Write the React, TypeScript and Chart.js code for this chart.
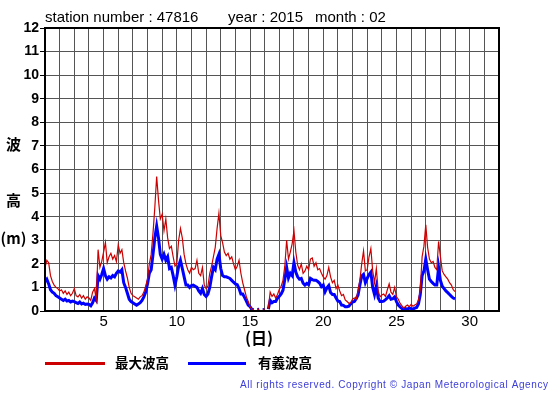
import React, { useEffect, useRef } from "react";
import { Chart, registerables } from "chart.js";

Chart.register(...registerables);

// Time axis: day of month, 3-hourly samples from Feb 1 00:00 to Feb 29 00:00 (= end of Feb 28)
const START_DAY = 1;
const STEP_DAYS = 0.125;

// 最大波高 (maximum wave height, m), 8 samples per day
const maxWave: (number | null)[] = [
  1.85, 2.15, 2.05, 1.5, 1.25, 1.1, 1.0, 0.95,
  0.85, 0.9, 0.75, 0.85, 0.7, 0.8, 0.65, 0.75,
  0.95, 0.65, 0.6, 0.7, 0.55, 0.65, 0.5, 0.6,
  0.55, 0.45, 0.8, 0.95, 0.5, 2.6, 1.85, 2.1,
  2.5, 2.9, 2.05, 2.3, 2.45, 2.2, 2.35, 2.1,
  2.8, 2.45, 2.6, 2.05, 1.7, 1.4, 1.0, 0.75,
  0.65, 0.6, 0.55, 0.5, 0.6, 0.65, 0.8, 1.05,
  1.35, 2.0, 2.4, 3.3, 4.4, 5.7, 4.7, 3.9,
  4.1, 3.4, 3.9, 3.1, 2.65, 2.75, 2.3, 1.9,
  2.0, 3.0, 3.5, 3.1, 2.4, 2.0, 1.75, 1.6,
  1.85, 1.75, 1.8, 2.15, 1.6, 1.5, 1.85, 1.1,
  0.95, 1.05, 1.6, 1.9, 2.3, 2.7, 3.5, 4.15,
  3.2, 2.9, 2.5, 2.35, 2.45, 2.2, 2.3, 2.0,
  1.75, 1.9, 2.15, 1.6, 1.2, 0.9, 0.6, 0.4,
  0.18, 0.08, 0.07, null, 0.07, 0.08, null, 0.06,
  0.08, null, 0.1, 0.8, 0.62, 0.72, 0.55, 0.7,
  0.92, 1.05, 1.3, 1.9, 3.0, 2.2, 2.5, 2.85,
  3.4, 2.5, 1.95, 1.75, 2.0, 1.6, 1.7, 1.9,
  1.75, 2.2, 2.25, 1.9, 2.05, 1.75, 1.8, 1.6,
  1.45, 1.35, 1.5, 1.85, 1.45, 1.2, 1.3, 0.95,
  1.1, 0.85, 0.65, 0.7, 0.47, 0.4, 0.33, 0.35,
  0.5, 0.55, 0.5, 0.85, 1.3, 2.0, 2.55, 1.7,
  1.75, 2.3, 2.65, 1.7, 1.2, 1.8, 0.85, 0.6,
  0.68, 0.72, 0.62, 0.9, 1.15, 0.8, 0.7, 1.0,
  0.6, 0.5, 0.32, 0.22, 0.12, 0.2, 0.25, 0.18,
  0.28, 0.2, 0.25, 0.3, 0.45, 0.9, 2.3, 2.75,
  3.65, 2.7, 2.2, 2.05, 2.1, 1.85, 1.75, 2.95,
  2.3, 1.7, 1.55, 1.45, 1.35, 1.2, 1.1, 0.9,
  0.82,
];

// 有義波高 (significant wave height, m), 8 samples per day
const sigWave: (number | null)[] = [
  1.25, 1.35, 1.15, 0.9, 0.8, 0.75, 0.65, 0.6,
  0.55, 0.5, 0.45, 0.5, 0.42, 0.45, 0.38, 0.42,
  0.4, 0.35, 0.32, 0.38, 0.3, 0.33, 0.28, 0.3,
  0.28, 0.22, 0.35, 0.55, 0.45, 1.5, 1.35, 1.55,
  1.8, 1.5, 1.35, 1.45, 1.4, 1.5, 1.45, 1.6,
  1.7, 1.65, 1.75, 1.2, 1.0, 0.75, 0.5, 0.4,
  0.35, 0.3, 0.25, 0.3, 0.35, 0.45, 0.6, 0.8,
  1.15, 1.6, 1.75, 2.4, 3.1, 3.6, 3.1, 2.4,
  2.2, 2.4, 2.15, 2.3, 1.8, 1.85, 1.5, 1.1,
  1.45, 1.9, 2.15, 1.8, 1.45, 1.1, 1.1, 1.0,
  1.08, 1.1, 1.05, 1.0, 0.85, 0.75, 0.95, 0.7,
  0.62, 0.72, 1.0, 1.45, 1.85, 1.75, 2.2, 2.4,
  1.8, 1.5, 1.45, 1.45, 1.42, 1.38, 1.3, 1.22,
  1.15, 1.12, 0.95, 0.72, 0.72, 0.58, 0.42, 0.25,
  0.18, 0.07, 0.06, null, 0.06, 0.07, null, 0.05,
  0.07, null, 0.08, 0.45, 0.35, 0.4, 0.4, 0.54,
  0.62, 0.72, 0.88, 1.35, 1.85, 1.4, 1.6, 1.5,
  2.05, 1.65, 1.45, 1.35, 1.38, 1.18, 1.1, 1.17,
  1.12, 1.38, 1.33, 1.3, 1.3, 1.25, 1.18, 1.03,
  1.1, 0.82, 0.98, 1.08, 0.78, 0.7, 0.7, 0.55,
  0.42, 0.4, 0.25, 0.24, 0.18, 0.18, 0.2, 0.3,
  0.38, 0.4, 0.52, 0.68, 1.1, 1.48, 1.55, 1.2,
  1.38, 1.55, 1.65, 1.0, 0.7, 1.05, 0.55, 0.4,
  0.4, 0.42, 0.48, 0.55, 0.65, 0.5, 0.52, 0.6,
  0.4, 0.25, 0.17, 0.1, 0.05, 0.1, 0.08, 0.12,
  0.1, 0.08, 0.12, 0.15, 0.3, 0.7, 1.5, 1.7,
  2.2, 1.75, 1.35, 1.25, 1.17, 1.1, 1.1, 1.85,
  1.3, 1.05, 0.95, 0.85, 0.78, 0.7, 0.62, 0.55,
  0.52,
];

const xMin = 1;
const xMax = 32;
const xLabelDays = [5, 10, 15, 20, 25, 30];
const yMin = 0;
const yMax = 12;

const titleParts = [
  { text: "station number : 47816", x: 45 },
  { text: "year : 2015", x: 228 },
  { text: "month : 02", x: 315 },
];
const seriesNames = ["最大波高", "有義波高"];
const seriesColors = ["#cc0000", "#0000ff"];
const xTitle = "(日)";
const yTitleChars = [
  { text: "波", y: 144 },
  { text: "高", y: 200 },
  { text: "(m)", y: 238 },
];
const copyright = "All rights reserved. Copyright © Japan Meteorological Agency";

const SANS = '"Liberation Sans", Arial, Helvetica, sans-serif';
const CJK = '"Noto Sans CJK JP", "Noto Sans CJK SC", sans-serif';

const toPoints = (arr: (number | null)[]) =>
  arr.map((v, i) => ({ x: START_DAY + i * STEP_DAYS, y: v }));

const decorPlugin = {
  id: "decor",
  afterDraw(chart: any) {
    const ctx: CanvasRenderingContext2D = chart.ctx;
    const { left, top, right, bottom } = chart.chartArea;
    ctx.save();
    // frame
    ctx.strokeStyle = "#000";
    ctx.lineWidth = 2;
    ctx.strokeRect(left, top, right - left, bottom - top);

    // title
    ctx.fillStyle = "#000";
    ctx.textBaseline = "middle";
    ctx.textAlign = "left";
    ctx.font = `15px ${SANS}`;
    titleParts.forEach((p) => ctx.fillText(p.text, p.x, 18));

    // y title
    ctx.textAlign = "center";
    ctx.font = `bold 15px ${CJK}`;
    yTitleChars.forEach((c) => ctx.fillText(c.text, 13.5, c.y));

    // x title
    ctx.font = `bold 16px ${CJK}`;
    ctx.fillText(xTitle, 259, 338);

    // legend
    const legendItems = [
      { x1: 45, x2: 105, tx: 115 },
      { x1: 188, x2: 246, tx: 258 },
    ];
    legendItems.forEach((it, i) => {
      ctx.strokeStyle = seriesColors[i];
      ctx.lineWidth = 3;
      ctx.beginPath();
      ctx.moveTo(it.x1, 363.5);
      ctx.lineTo(it.x2, 363.5);
      ctx.stroke();
      ctx.fillStyle = "#000";
      ctx.textAlign = "left";
      ctx.font = `bold 13.5px ${CJK}`;
      ctx.fillText(seriesNames[i], it.tx, 363);
    });

    // copyright
    ctx.font = `10px ${SANS}`;
    ctx.fillStyle = "#3c3cd8";
    ctx.textAlign = "left";
    const w = ctx.measureText(copyright).width;
    const target = 308;
    const extra = (target - w) / (copyright.length - 1);
    let cx = 240;
    for (const ch of copyright) {
      ctx.fillText(ch, cx, 385);
      cx += ctx.measureText(ch).width + extra;
    }
    ctx.restore();
  },
};

export default function App() {
  const ref = useRef<HTMLCanvasElement>(null);
  useEffect(() => {
    if (!ref.current) return;
    const chart = new Chart(ref.current, {
      type: "line",
      data: {
        datasets: [
          {
            label: seriesNames[0],
            data: toPoints(maxWave) as any,
            borderColor: seriesColors[0],
            borderWidth: 1.2,
            pointRadius: 0,
            spanGaps: false,
            tension: 0,
            order: 0,
          },
          {
            label: seriesNames[1],
            data: toPoints(sigWave) as any,
            borderColor: seriesColors[1],
            borderWidth: 3,
            pointRadius: 0,
            spanGaps: false,
            tension: 0,
            order: 1,
          },
        ],
      },
      options: {
        animation: false,
        responsive: false,
        devicePixelRatio: 1,
        parsing: true,
        layout: { padding: { left: 0, top: 28, right: 56, bottom: 0 } },
        plugins: {
          legend: { display: false },
          tooltip: { enabled: false },
          title: { display: false },
        },
        scales: {
          x: {
            type: "linear",
            min: xMin,
            max: xMax,
            afterFit: (s: any) => {
              s.height = 84;
            },
            ticks: {
              stepSize: 1,
              autoSkip: false,
              maxRotation: 0,
              minRotation: 0,
              padding: 2,
              color: "#000",
              font: { family: SANS, size: 15 },
              callback: (v: any) => (xLabelDays.includes(Number(v)) ? String(v) : ""),
            },
            grid: { color: "#555", lineWidth: 1, drawTicks: false },
            border: { display: false },
          },
          y: {
            min: yMin,
            max: yMax,
            afterFit: (s: any) => {
              s.width = 45;
            },
            ticks: {
              stepSize: 1,
              padding: 1,
              color: "#000",
              font: { family: SANS, size: 14, weight: "bold" },
            },
            grid: { color: "#555", lineWidth: 1, tickLength: 5, tickColor: "#000" },
            border: { display: false },
          },
        },
      },
      plugins: [decorPlugin],
    });
    return () => chart.destroy();
  }, []);

  return (
    <div style={{ position: "absolute", left: 0, top: 0, width: 555, height: 395, background: "#fff" }}>
      <canvas ref={ref} width={555} height={395} style={{ width: 555, height: 395, display: "block" }} />
    </div>
  );
}
